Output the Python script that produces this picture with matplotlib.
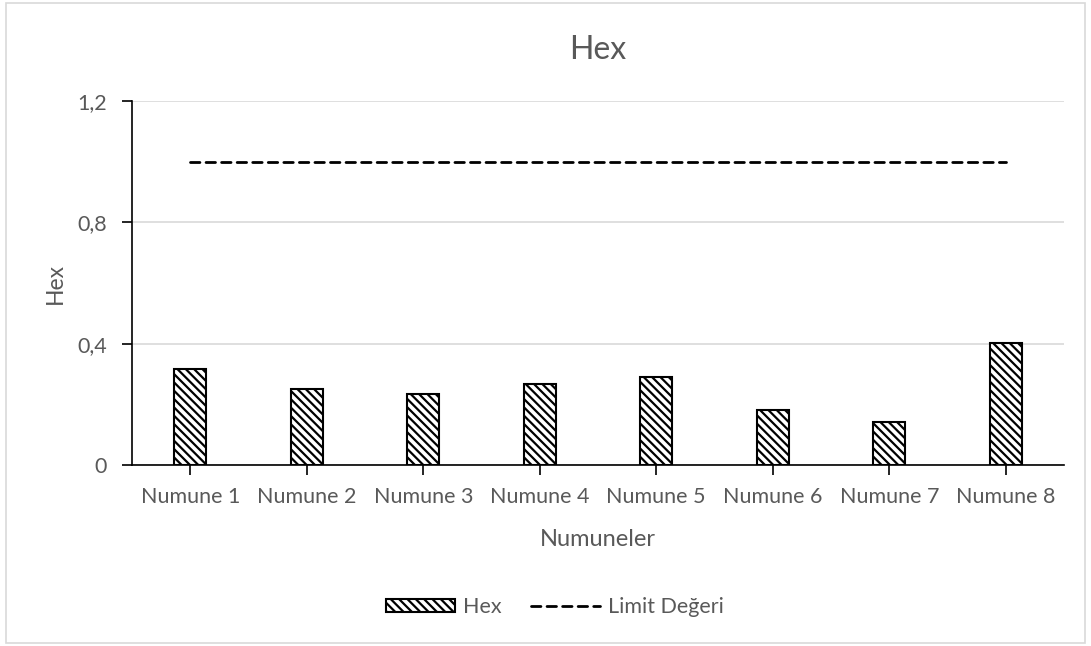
import matplotlib.pyplot as plt
from matplotlib.patches import Rectangle
import numpy as np

plt.rcParams['font.family'] = ['Lato', 'DejaVu Sans']
plt.rcParams['hatch.linewidth'] = 1.6

# Sample values
samples = ['Numune 1', 'Numune 2', 'Numune 3', 'Numune 4',
           'Numune 5', 'Numune 6', 'Numune 7', 'Numune 8']
hex_values = [0.317, 0.251, 0.233, 0.267, 0.290, 0.181, 0.141, 0.403]
limit_values = [1.0] * len(samples)
y_ticks = [0, 0.4, 0.8, 1.2]
y_tick_labels = ['0', '0,4', '0,8', '1,2']

text_color = '#595959'

fig = plt.figure(figsize=(10.91, 6.46), dpi=100)
ax = fig.add_axes([132 / 1091, 1 - 465 / 646, (1064 - 132) / 1091, (465 - 101) / 646])

# Chart frame
fig.patches.append(Rectangle((6 / 1091, 3 / 646), 1079 / 1091, 640 / 646,
                             transform=fig.transFigure, fill=False,
                             edgecolor='#d9d9d9', linewidth=1.2))

x = np.arange(len(samples))
ax.bar(x, hex_values, width=0.275, color='white', edgecolor='black',
       hatch='\\\\\\\\', linewidth=1.5, label='Hex', zorder=3)
ax.plot(x, limit_values, color='black', linestyle=(0, (3.4, 2.2)), linewidth=2.0,
        dash_capstyle='round', label='Limit Değeri', zorder=4)

ax.set_xlim(-0.5, len(samples) - 0.5)
ax.set_ylim(0, 1.2)
ax.set_yticks(y_ticks)
ax.set_yticklabels(y_tick_labels)
ax.set_xticks(x)
ax.set_xticklabels(samples)

ax.grid(axis='y', color='#d9d9d9', linewidth=1.2, zorder=0)
ax.set_axisbelow(True)
for side in ['top', 'right']:
    ax.spines[side].set_visible(False)
for side in ['left', 'bottom']:
    ax.spines[side].set_color('black')
    ax.spines[side].set_linewidth(1.2)

ax.tick_params(axis='both', direction='out', length=7, width=1.2, color='black',
               labelcolor=text_color, labelsize=15.5, pad=9)
ax.tick_params(axis='y', pad=11)

ax.set_title('Hex', fontsize=23, color=text_color, pad=30)
ax.set_xlabel('Numuneler', fontsize=17, color=text_color, labelpad=16)
ax.set_ylabel('Hex', fontsize=16.5, color=text_color, labelpad=8)

handles, labels = ax.get_legend_handles_labels()
order = [labels.index('Hex'), labels.index('Limit Değeri')]
fig.legend([handles[i] for i in order], [labels[i] for i in order],
           loc='center', bbox_to_anchor=(555 / 1091, 1 - 607 / 646),
           ncol=2, frameon=False, fontsize=15.5, labelcolor=text_color,
           handlelength=3.2, handleheight=0.6, columnspacing=1.35, handletextpad=0.37)

fig.savefig('out.png', dpi=100)
